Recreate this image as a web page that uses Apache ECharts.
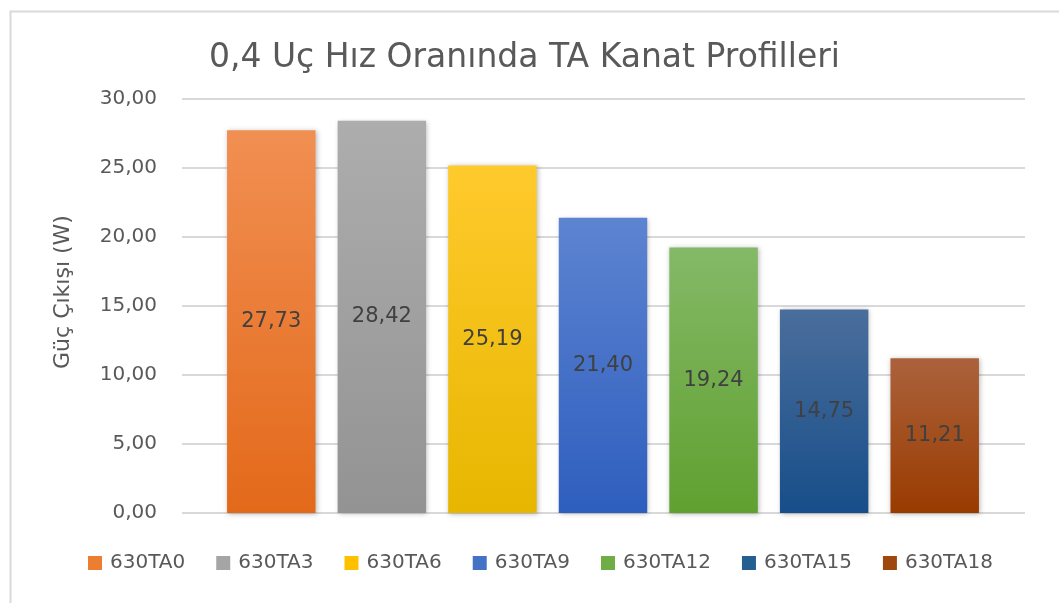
<!DOCTYPE html>
<html>
<head>
<meta charset="utf-8">
<title>0,4 Uç Hız Oranında TA Kanat Profilleri</title>
<script src="https://cdn.jsdelivr.net/npm/echarts@6/dist/echarts.min.js"></script>
<style>
  html, body { margin: 0; padding: 0; background: #ffffff; }
  #chart { width: 1059px; height: 603px; }
</style>
</head>
<body>
<div id="chart"></div>
<script>
// Blade profiles and their power output (W)
const categories = ['630TA0', '630TA3', '630TA6', '630TA9', '630TA12', '630TA15', '630TA18'];
const values = [27.73, 28.42, 25.19, 21.40, 19.24, 14.75, 11.21];
const yTickLabels = ['0,00', '5,00', '10,00', '15,00', '20,00', '25,00', '30,00'];

// Top / bottom gradient stops for each profile
const colorTop = ['#f18f52', '#adadad', '#ffca2c', '#5d84d1', '#84b967', '#4a6e9c', '#ab623c'];
const colorBottom = ['#e3691a', '#939393', '#e7b600', '#2e5ebe', '#60a030', '#174e89', '#993b00'];
const colorBase = ['#ed7d31', '#a5a5a5', '#ffc000', '#4472c4', '#70ad47', '#255e91', '#9e480e'];

const FONT = 'DejaVu Sans';
const TEXT = '#595959';
const fmt = v => v.toFixed(2).replace('.', ',');

const series = categories.map((name, i) => ({
  name: name,
  type: 'bar',
  xAxisIndex: 1,
  yAxisIndex: 1,
  stack: 'profiles',
  barWidth: '80%',
  data: categories.map((c, j) => (j === i ? values[i] : null)),
  itemStyle: {
    color: {
      type: 'linear', x: 0, y: 0, x2: 0, y2: 1,
      colorStops: [
        { offset: 0, color: colorTop[i] },
        { offset: 1, color: colorBottom[i] }
      ]
    },
    shadowBlur: 5,
    shadowColor: 'rgba(0,0,0,0.28)',
    shadowOffsetX: 1,
    shadowOffsetY: 1
  },
  label: {
    show: true,
    position: 'inside',
    formatter: p => fmt(p.value),
    color: '#404040',
    fontFamily: FONT,
    fontSize: 21
  }
}));

const chart = echarts.init(document.getElementById('chart'), null, { renderer: 'canvas' });

chart.setOption({
  animation: false,
  backgroundColor: '#ffffff',
  graphic: [
    {
      // chart area frame
      type: 'rect',
      left: 8, top: 9,
      shape: { width: 1200, height: 800 },
      style: { fill: 'none', stroke: '#d9d9d9', lineWidth: 2 },
      silent: true
    },
    {
      // value axis title, rotated
      type: 'text',
      x: 63, y: 292,
      rotation: Math.PI / 2,
      style: {
        text: 'Güç Çıkışı (W)',
        fontFamily: FONT, fontSize: 22, fill: TEXT,
        align: 'center', verticalAlign: 'middle'
      },
      silent: true
    }
  ],
  title: {
    text: '0,4 Uç Hız Oranında TA Kanat Profilleri',
    left: 204,
    top: 37,
    textStyle: { fontFamily: FONT, fontSize: 33, fontWeight: 'normal', color: TEXT }
  },
  legend: {
    left: 83,
    top: 547,
    itemWidth: 14,
    itemHeight: 14,
    itemGap: 31,
    icon: 'rect',
    data: categories.map((c, i) => ({ name: c, itemStyle: { color: colorBase[i] } })),
    textStyle: { fontFamily: FONT, fontSize: 20, color: TEXT, padding: [0, 0, 0, 3], lineHeight: 22 }
  },
  grid: [
    // value scale and gridlines across the full plot width
    { left: 182, right: 34, top: 99, bottom: 90 },
    // bar area
    { left: 216, right: 69, top: 99, bottom: 90 }
  ],
  xAxis: [
    { gridIndex: 0, type: 'category', data: categories, show: false },
    {
      gridIndex: 1, type: 'category', data: categories,
      axisLine: { show: false }, axisTick: { show: false }, axisLabel: { show: false }
    }
  ],
  yAxis: [
    {
      gridIndex: 0, type: 'value', min: 0, max: 30, interval: 5,
      axisLine: { show: false },
      axisTick: { show: false },
      axisLabel: {
        margin: 25,
        fontFamily: FONT, fontSize: 20, color: TEXT,
        formatter: (v, idx) => yTickLabels[idx]
      },
      splitLine: { lineStyle: { color: '#d9d9d9', width: 2 } }
    },
    {
      gridIndex: 1, type: 'value', min: 0, max: 30, interval: 5,
      show: false, splitLine: { show: false }
    }
  ],
  series: series
});
</script>
</body>
</html>
